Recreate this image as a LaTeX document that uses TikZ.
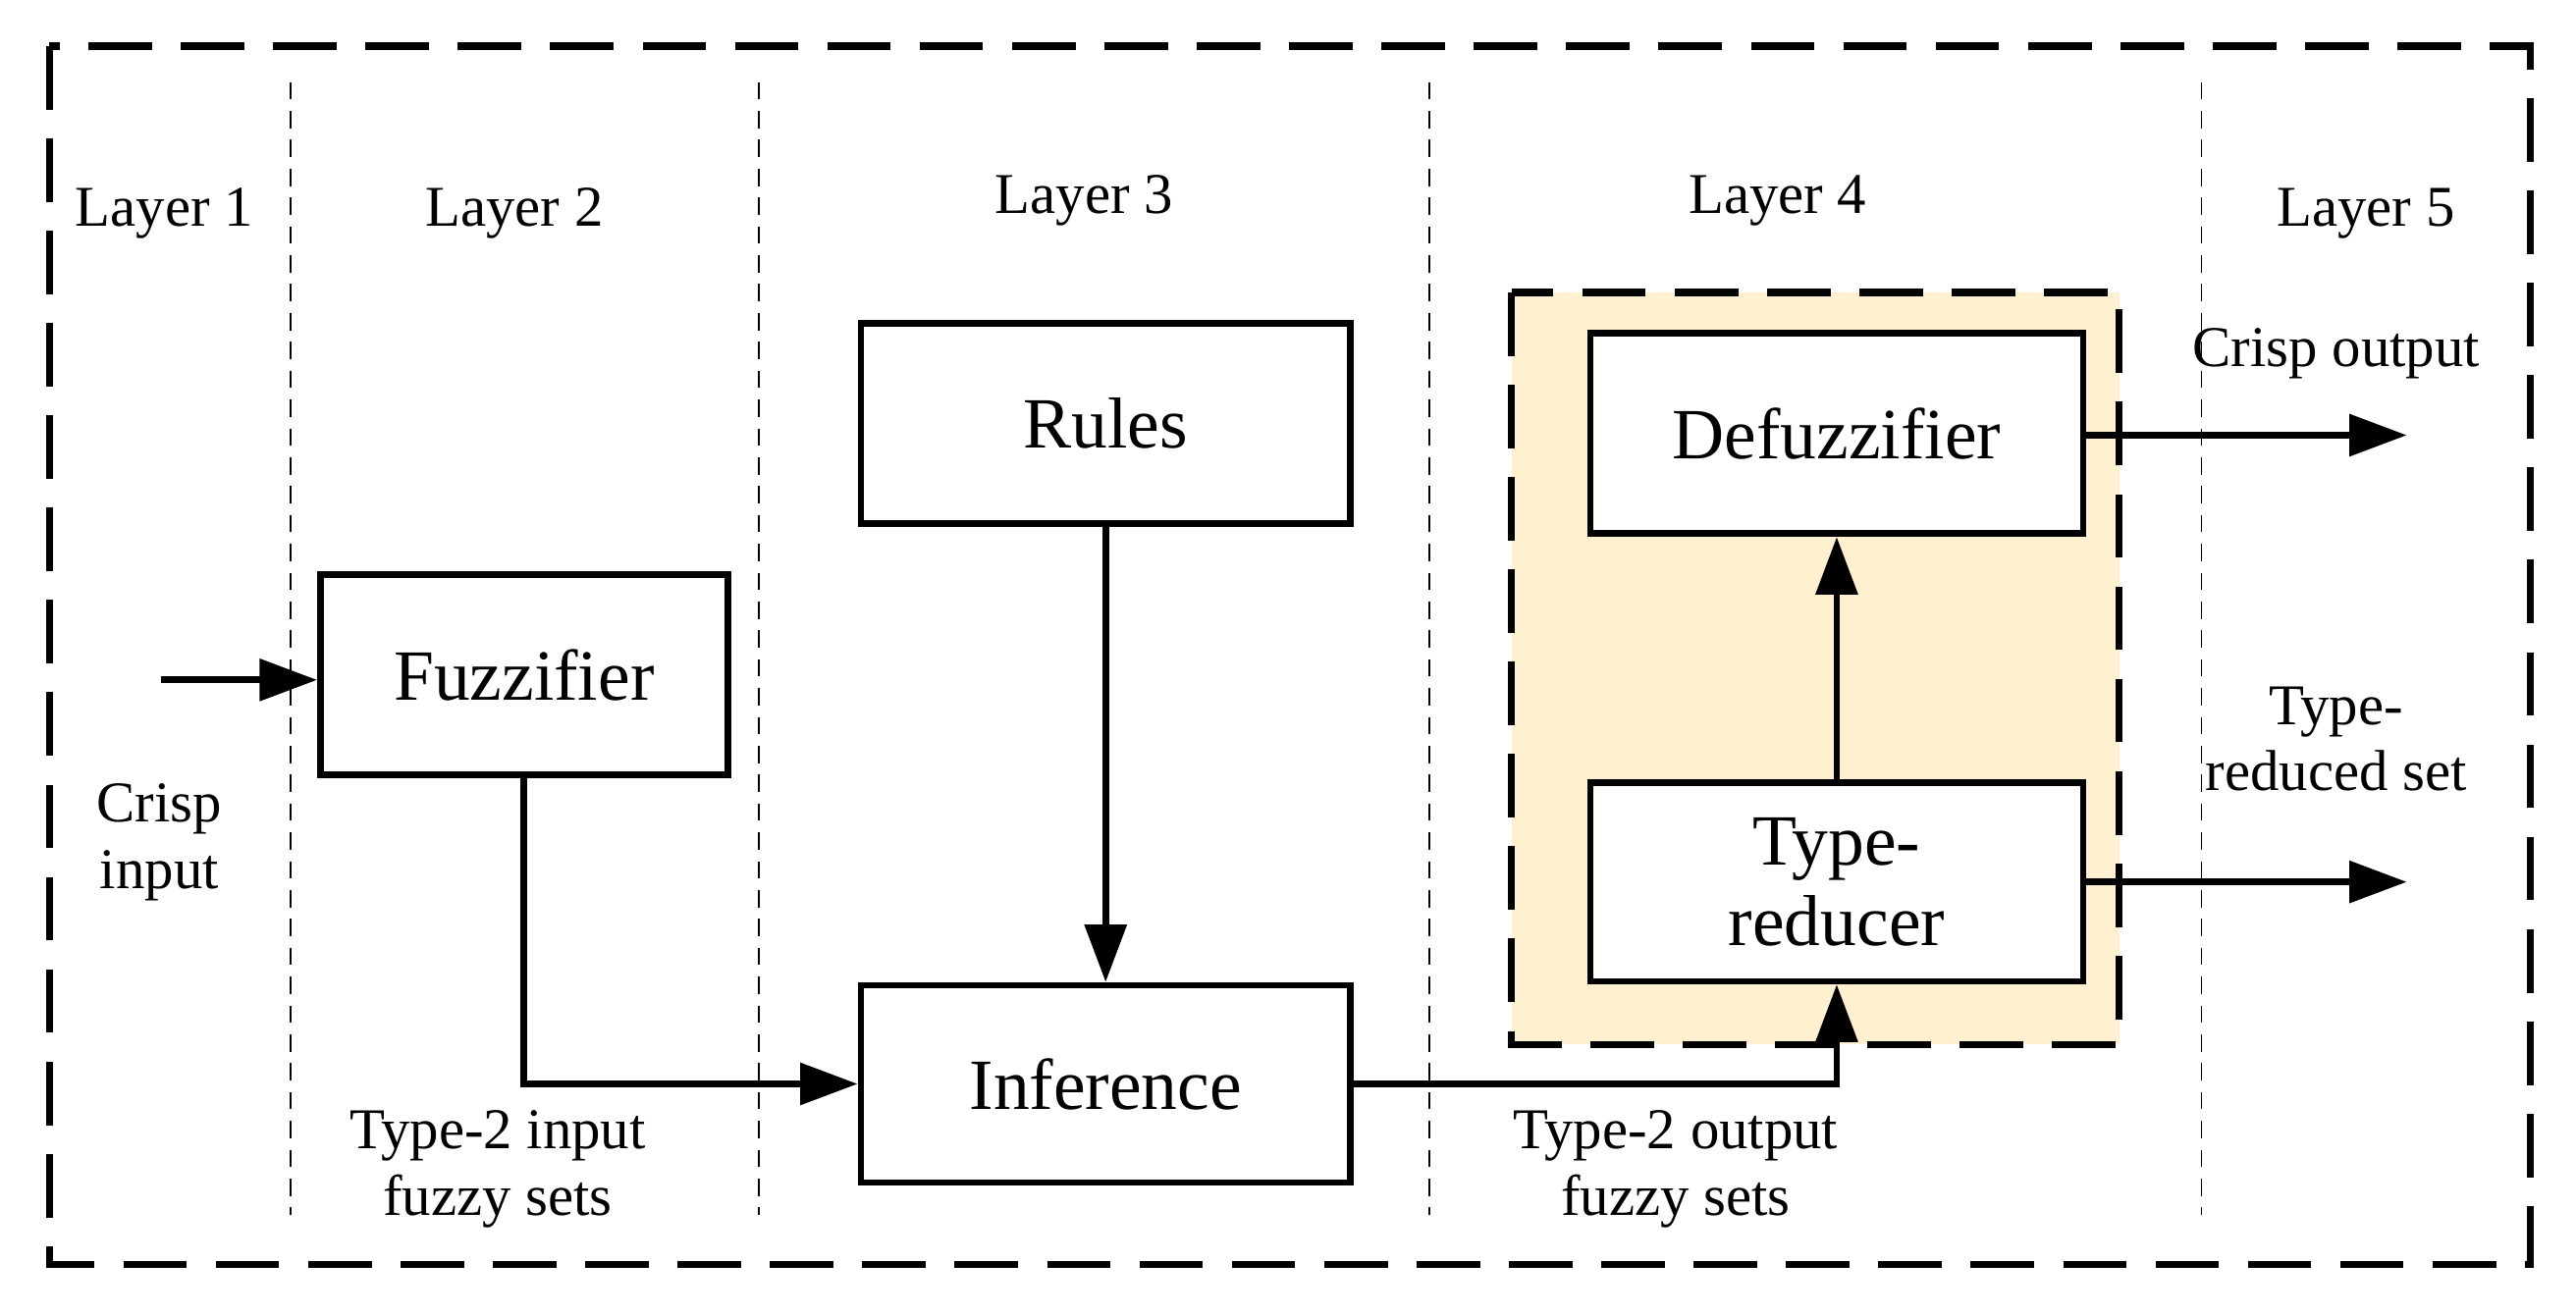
\documentclass[tikz,border=0pt]{standalone}
\usepackage{fontspec}
\setmainfont{Liberation Serif}
\usetikzlibrary{arrows.meta}
\begin{document}
\begin{tikzpicture}[x=0.02cm,y=-0.02cm,
  box/.style={draw,line width=2.3pt,fill=white,inner sep=0pt,font=\fontsize{25}{28}\selectfont},
  lbl/.style={font=\fontsize{20}{23}\selectfont,align=center,inner sep=0pt},
  arr/.style={line width=2.3pt,-{Triangle[length=0.7cm,width=0.5cm]}},
  sep/.style={dash pattern=on 6pt off 4pt,line width=0.6pt}]
\useasboundingbox (0,0) rectangle (1568,801);
\draw[line width=2.5pt,dash pattern=on 22pt off 10pt] (30,28) rectangle (1540,770);
\foreach \x in {177,462,870,1340} \draw[sep] (\x,50) -- (\x,740);
\node[lbl] (l1) at (100,130) {Layer 1};
\node[lbl] (l2) at (313,130) {Layer 2};
\node[lbl] (l3) at (660,122) {Layer 3};
\node[lbl] (l4) at (1082,122) {Layer 4};
\node[lbl] (l5) at (1440,130) {Layer 5};
\draw[fill={rgb,255:red,255;green,241;blue,208},line width=2.5pt,dash pattern=on 22pt off 10pt] (920,178) rectangle (1290,636);
\node[box,minimum width=5.96cm,minimum height=2.44cm] (rules) at (673,258) {Rules};
\node[box,minimum width=4.96cm,minimum height=2.44cm] (fuzz) at (319,411) {Fuzzifier};
\node[box,minimum width=5.96cm,minimum height=2.4cm] (inf) at (673,660) {Inference};
\node[box,minimum width=6cm,minimum height=2.44cm] (defuzz) at (1118,264) {Defuzzifier};
\node[box,minimum width=6cm,minimum height=2.42cm,align=center] (tr) at (1118,537) {Type-\\reducer};
\coordinate (in) at (98,414);
\coordinate (o1) at (1465,265);
\coordinate (o2) at (1465,537);
\draw[arr] (in) -- (fuzz.west|-in);
\draw[arr] (fuzz.south) |- (inf.west);
\draw[arr] (rules.south) -- (inf.north);
\draw[arr] (inf.east) -| (tr.south);
\draw[arr] (tr.north) -- (defuzz.south);
\draw[arr] (defuzz.east|-o1) -- (o1);
\draw[arr] (tr.east) -- (o2);
\node[lbl] (ci) at (97,513) {Crisp\\input};
\node[lbl] (t2i) at (303,712) {Type-2 input\\fuzzy sets};
\node[lbl] (t2o) at (1020,712) {Type-2 output\\fuzzy sets};
\node[lbl] (co) at (1422,215) {Crisp output};
\node[lbl] (rs) at (1422,450) {Type-\\reduced set};
\end{tikzpicture}
\end{document}
